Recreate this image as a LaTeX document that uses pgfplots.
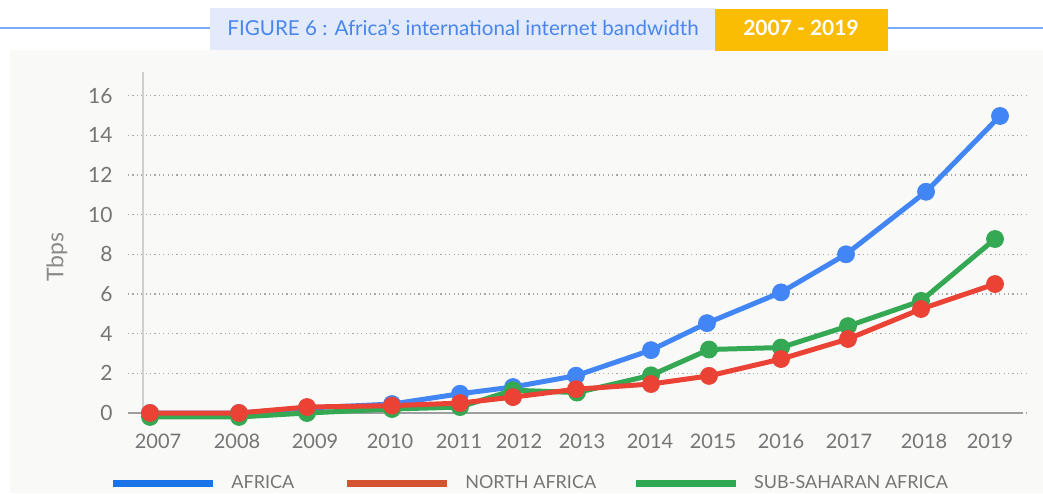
\documentclass[border=0pt]{standalone}
\usepackage{pgfplots}
\pgfplotsset{compat=1.18}
\usepackage{fontspec}
\setmainfont{Lato}

\definecolor{cblue}{HTML}{4285F4}
\definecolor{cred}{HTML}{EA4335}
\definecolor{cgreen}{HTML}{34A853}
\definecolor{lblue}{HTML}{1A73E8}
\definecolor{lred}{HTML}{D65332}
\definecolor{lgreen}{HTML}{30A851}
\definecolor{bgc}{HTML}{F9F9F8}
\definecolor{titlebg}{HTML}{E2EAFB}
\definecolor{titletext}{HTML}{4A86EE}
\definecolor{yel}{HTML}{FBBC04}
\definecolor{topline}{HTML}{7BAAF7}
\definecolor{ticktext}{HTML}{757575}
\definecolor{gridc}{HTML}{A8A8A8}
\definecolor{axisc}{HTML}{9E9E9E}
\definecolor{yaxisc}{HTML}{CFCFCF}

\begin{document}
\begin{tikzpicture}
% frame, title boxes (pixel grid of the reference, 1px = 0.5pt)
\begin{scope}[x=0.5pt, y=-0.5pt, shift={(-128,-413)}]
  \useasboundingbox (0,0) rectangle (1043,493);
  \fill[bgc] (10,50) rectangle (1043,493);
  \draw[topline, line width=1pt] (0,28) -- (210,28) (888,28) -- (1043,28);
  \fill[titlebg] (210,8) rectangle (715,50);
  \fill[yel] (715,9) rectangle (888,51);
  \node[text=titletext, font=\fontsize{10.3}{12}\selectfont] at (463,28)
    {FIGURE 6 : Africa’s international internet bandwidth};
  \node[text=white, font=\fontsize{10.5}{12}\selectfont\bfseries] at (801,28) {2007 - 2019};
\end{scope}

\begin{axis}[
  at={(0,0)}, anchor=south west,
  x=0.5pt, y=9.92pt,
  xmin=128, xmax=1028, ymin=0, ymax=17.19,
  clip=false,
  axis line style={draw=none},
  tick style={draw=none},
  major tick length=0pt,
  ytick={0,2,...,16},
  ymajorgrids,
  major grid style={gridc, line width=0.6pt, dash pattern=on 0.6pt off 1.6pt},
  xtick={158,237,315,390,459,519,582,650,713,781,849,924,990},
  xticklabels={2007,2008,2009,2010,2011,2012,2013,2014,2015,2016,2017,2018,2019},
  /pgf/number format/assume math mode=true,
  ticklabel style={text=ticktext, font=\fontsize{10.5}{12}\selectfont},
  yticklabel style={anchor=east, inner sep=0pt, xshift=-7.5pt},
  xticklabel style={anchor=center, inner sep=0pt, yshift=-14pt, font=\fontsize{10}{12}\selectfont},
  ylabel={Tbps},
  ylabel style={at={(axis description cs:-0.0789,0.457)}, anchor=center,
    text=ticktext!85, font=\fontsize{11.5}{13}\selectfont},
  legend image code/.code={\draw[#1, line width=3.5pt] (0pt,0pt) -- (50pt,0pt);},
  legend style={at={(axis description cs:-0.0211,-0.208)}, anchor=west,
    draw=none, fill=none, inner sep=0pt, legend columns=3,
    font=\fontsize{9}{11}\selectfont, text=ticktext,
    nodes={inner sep=0pt},
    /tikz/every odd column/.append style={column sep=7.5pt},
    /tikz/every even column/.append style={column sep=18pt}},
  legend cell align=left,
]
\draw[yaxisc, line width=0.8pt] (axis cs:143,0) -- (axis cs:143,17.19);
\draw[axisc, line width=1pt] (axis cs:128,0) -- (axis cs:1023,0);

\addplot[cblue, line width=2.5pt, mark=*, mark size=4.25pt,
  mark options={solid, fill=cblue, draw=cblue, line width=0.4pt}, forget plot]
  coordinates {(150,0) (239,0) (307,0.25) (392,0.45) (460,0.97) (513,1.31) (576,1.88)
               (651,3.17) (707,4.53) (781,6.08) (846,8.0) (926,11.15) (1000,14.97)};
\addplot[cgreen, line width=2.5pt, mark=*, mark size=4.25pt,
  mark options={solid, fill=cgreen, draw=cgreen, line width=0.4pt}, forget plot]
  coordinates {(150,-0.2) (239,-0.2) (307,0.0) (392,0.2) (460,0.3) (513,1.15) (577,1.03)
               (651,1.9) (709,3.2) (781,3.3) (848,4.38) (921,5.65) (995,8.77)};
\addplot[cred, line width=2.5pt, mark=*, mark size=4.25pt,
  mark options={solid, fill=cred, draw=cred, line width=0.4pt}, forget plot]
  coordinates {(150,0) (239,0) (307,0.3) (392,0.37) (460,0.5) (513,0.8) (576,1.2)
               (651,1.46) (709,1.87) (781,2.72) (848,3.73) (921,5.24) (995,6.5)};

\addlegendimage{draw=lblue}
\addlegendentry{AFRICA\rule{6.5pt}{0pt}}
\addlegendimage{draw=lred}
\addlegendentry{NORTH AFRICA}
\addlegendimage{draw=lgreen}
\addlegendentry{SUB-SAHARAN AFRICA}
\end{axis}
\end{tikzpicture}
\end{document}
